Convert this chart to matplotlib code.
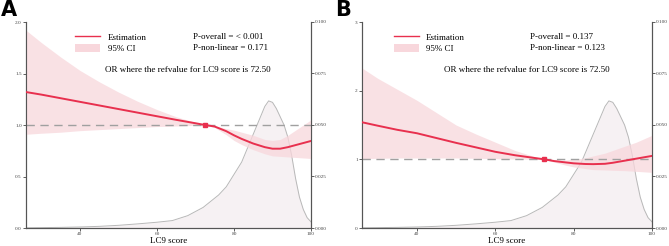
import matplotlib
matplotlib.use("Agg")
import matplotlib.pyplot as plt
from matplotlib.lines import Line2D
from matplotlib.patches import Patch

# ---------------- data ----------------
ref_value = 72.5

# Panel A
a_x = [26, 30, 35, 40, 45, 50, 55, 60, 65, 70, 72.5, 75, 78, 80, 82, 85, 88, 90, 92, 94, 96, 98, 100]
a_or = [1.32, 1.295, 1.26, 1.225, 1.19, 1.155, 1.12, 1.085, 1.05, 1.017, 1.0, 0.985, 0.94, 0.90, 0.865, 0.82, 0.785, 0.77, 0.77, 0.785, 0.805, 0.825, 0.845]
a_up = [1.92, 1.80, 1.66, 1.53, 1.42, 1.32, 1.23, 1.15, 1.08, 1.025, 1.0, 0.99, 0.965, 0.95, 0.93, 0.90, 0.86, 0.85, 0.86, 0.90, 0.95, 1.0, 1.05]
a_lo = [0.91, 0.92, 0.93, 0.945, 0.955, 0.965, 0.975, 0.985, 0.99, 0.997, 1.0, 0.975, 0.905, 0.85, 0.81, 0.76, 0.72, 0.70, 0.695, 0.69, 0.685, 0.68, 0.675]
a_p_overall = "P-overall = < 0.001"
a_p_nonlin = "P-non-linear = 0.171"

# Panel B
b_x = [26, 30, 35, 40, 45, 50, 55, 60, 65, 70, 72.5, 75, 78, 80, 83, 85, 88, 90, 93, 96, 100]
b_or = [1.54, 1.49, 1.43, 1.38, 1.31, 1.24, 1.175, 1.11, 1.06, 1.02, 1.0, 0.975, 0.955, 0.942, 0.932, 0.93, 0.935, 0.95, 0.98, 1.01, 1.05]
b_up = [2.33, 2.18, 2.02, 1.86, 1.68, 1.50, 1.37, 1.25, 1.13, 1.04, 1.0, 0.99, 0.99, 1.0, 1.02, 1.05, 1.09, 1.13, 1.19, 1.25, 1.35]
b_lo = [1.01, 1.015, 1.02, 1.02, 1.02, 1.02, 1.015, 1.01, 1.005, 1.0, 1.0, 0.96, 0.915, 0.89, 0.865, 0.85, 0.845, 0.84, 0.835, 0.825, 0.81]
b_p_overall = "P-overall = 0.137"
b_p_nonlin = "P-non-linear = 0.123"

# density of LC9 score (right axis)
d_x = [26, 35, 40, 45, 50, 55, 60, 64, 68, 72, 74, 76, 78, 80, 82, 84, 86, 88, 89, 90, 91, 92, 93, 94, 95, 96, 97, 98, 99, 100]
d_y = [0.0001, 0.0003, 0.0005, 0.0008, 0.0013, 0.002, 0.0028, 0.0036, 0.006, 0.010, 0.013, 0.016, 0.020, 0.026, 0.032, 0.041, 0.050, 0.059, 0.0617, 0.061, 0.058, 0.054, 0.050, 0.044, 0.035, 0.024, 0.015, 0.009, 0.005, 0.003]

xticks = [40, 60, 80, 100]
right_ticks = [0.0, 0.025, 0.05, 0.075, 0.1]
a_yticks = [0.0, 0.5, 1.0, 1.5, 2.0]
b_yticks = [0, 1, 2, 3]

RED = "#e8304e"
CI = "#f8d7dc"
DENS_FILL = "#f6f1f3"
DENS_LINE = "#b8b8b8"
SERIF = ["Liberation Serif", "DejaVu Serif"]

fig = plt.figure(figsize=(6.69, 2.46), dpi=100)


def panel(rect, x, orv, up, lo, yticks, ylim, ytfmt, p1, p2, leg_x, p_x):
    ax = fig.add_axes(rect)
    ax2 = ax.twinx()
    ax.set_zorder(ax2.get_zorder() + 1)
    ax.patch.set_visible(False)

    # density
    ax2.fill_between(d_x, 0, d_y, color=DENS_FILL, lw=0)
    ax2.plot(d_x, d_y, color=DENS_LINE, lw=0.7)
    ax2.set_ylim(0, 0.1)
    ax2.set_yticks(right_ticks)
    ax2.set_yticklabels([f"{v:.3f}" for v in right_ticks])

    ax.fill_between(x, lo, up, color=CI, alpha=0.75, lw=0)
    ax.axhline(1.0, color="#a0a0a0", lw=1.0, ls=(0, (6, 4)), zorder=1)
    ax.plot(x, orv, color=RED, lw=1.4, zorder=3)
    ax.plot([ref_value], [1.0], marker="s", ms=2.5, color=RED, zorder=4)

    ax.set_xlim(26, 100)
    ax.set_ylim(*ylim)
    ax.set_xticks(xticks)
    ax.set_yticks(yticks)
    ax.set_yticklabels([ytfmt.format(v) for v in yticks])
    ax.set_xlabel("LC9 score", fontsize=6.5, family=SERIF, labelpad=0.5)

    for a in (ax, ax2):
        a.spines["top"].set_visible(False)
        for s in ("left", "right", "bottom"):
            a.spines[s].set_color("#555555")
            a.spines[s].set_linewidth(0.8)
        a.tick_params(labelsize=3.8, colors="#444444", length=2, width=0.6, pad=1.0)
        for t in a.get_xticklabels() + a.get_yticklabels():
            t.set_family(SERIF)

    handles = [Line2D([0], [0], color=RED, lw=1.0), Patch(facecolor=CI, edgecolor="none")]
    ax.legend(handles, ["Estimation", "95% CI"], loc="upper left",
              bbox_to_anchor=(leg_x, 0.965), frameon=False,
              prop={"family": SERIF, "size": 6.5}, handlelength=2.8,
              handleheight=1.0, labelspacing=0.25, handletextpad=0.8, borderaxespad=0)
    ax.text(p_x, 0.927, p1, transform=ax.transAxes, fontsize=6.5, family=SERIF, va="center")
    ax.text(p_x, 0.874, p2, transform=ax.transAxes, fontsize=6.5, family=SERIF, va="center")
    ax.text(0.568, 0.767, "OR where the refvalue for LC9 score is 72.50", transform=ax.transAxes,
            fontsize=6.5, family=SERIF, va="center", ha="center")
    return ax


panel([26 / 669, 1 - 228 / 246, 285 / 669, 206 / 246], a_x, a_or, a_up, a_lo,
      a_yticks, (0, 2.0), "{:.1f}", a_p_overall, a_p_nonlin, 0.16, 0.586)
panel([362 / 669, 1 - 228 / 246, 290 / 669, 206 / 246], b_x, b_or, b_up, b_lo,
      b_yticks, (0, 3.0), "{:.0f}", b_p_overall, b_p_nonlin, 0.097, 0.579)

fig.text(1 / 669, 1 - 0 / 246, "A", fontsize=15, fontweight="bold",
         family=["Liberation Sans Narrow", "DejaVu Sans"], va="top", ha="left")
fig.text(335 / 669, 1 - 0 / 246, "B", fontsize=15, fontweight="bold",
         family=["Liberation Sans Narrow", "DejaVu Sans"], va="top", ha="left")

fig.savefig("out.png", dpi=100)
